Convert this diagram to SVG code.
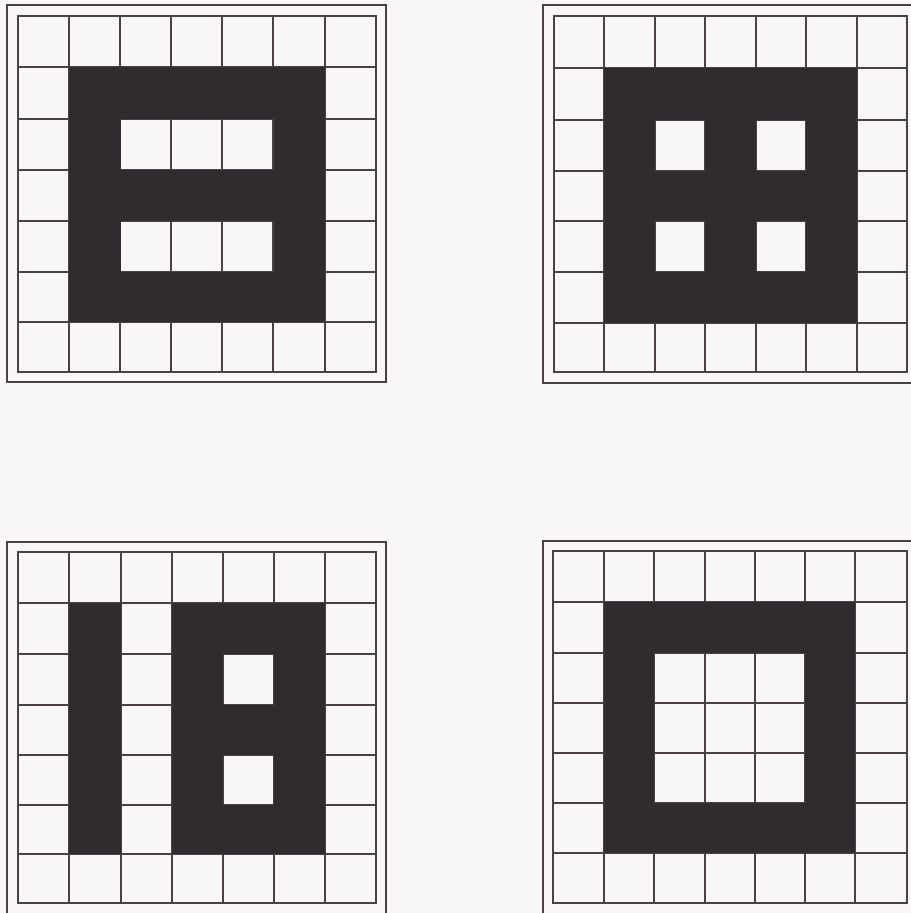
<svg xmlns="http://www.w3.org/2000/svg" width="911" height="913" viewBox="0 0 911 913">
<style>
.bg{fill:#f8f6f6}
.frame{fill:none;stroke:#4a4046;stroke-width:2}
.grid{fill:none;stroke:#4a4046;stroke-width:2}
.dark{fill:#302b2e;fill-rule:evenodd}
</style>
<rect class="bg" x="0" y="0" width="911" height="913"/>

<g id="grid1">
<rect class="frame" x="7" y="5" width="379" height="377"/>
<rect class="frame" x="18" y="16" width="358" height="356"/>
<path class="grid" d="M69 16V372M120 16V372M171 16V372M222 16V372M273 16V372M325 16V372M18 67H376M18 119H376M18 170H376M18 221H376M18 272H376M18 322H376"/>
<path class="dark" d="M69 67H325V322H69Z M121 119H274V170H121Z M121 221H274V272H121Z"/>
</g>

<g id="grid2">
<rect class="frame" x="543" y="5" width="376" height="378"/>
<rect class="frame" x="554" y="16" width="353" height="356"/>
<path class="grid" d="M604 16V372M655 16V372M705 16V372M756 16V372M806 16V372M857 16V372M554 68H907M554 120H907M554 171H907M554 221H907M554 272H907M554 323H907"/>
<path class="dark" d="M604 68H857V323H604Z M655 120H705V171H655Z M756 120H806V171H756Z M655 221H705V272H655Z M756 221H806V272H756Z"/>
</g>

<g id="grid3">
<rect class="frame" x="7" y="542" width="379" height="378"/>
<rect class="frame" x="18" y="552" width="358" height="351"/>
<path class="grid" d="M69 552V903M121 552V903M172 552V903M223 552V903M274 552V903M325 552V903M18 603H376M18 654H376M18 705H376M18 755H376M18 805H376M18 854H376"/>
<path class="dark" d="M69 603H121V854H69Z"/>
<path class="dark" d="M172 603H325V854H172Z M223 654H274V705H223Z M223 755H274V805H223Z"/>
</g>

<g id="grid4">
<rect class="frame" x="543" y="541" width="376" height="379"/>
<rect class="frame" x="553" y="551" width="354" height="352"/>
<path class="grid" d="M604 551V903M654 551V903M705 551V903M755 551V903M805 551V903M855 551V903M553 602H907M553 653H907M553 703H907M553 753H907M553 803H907M553 853H907"/>
<path class="dark" d="M604 602H855V853H604Z M654 653H805V803H654Z"/>
</g>
</svg>
